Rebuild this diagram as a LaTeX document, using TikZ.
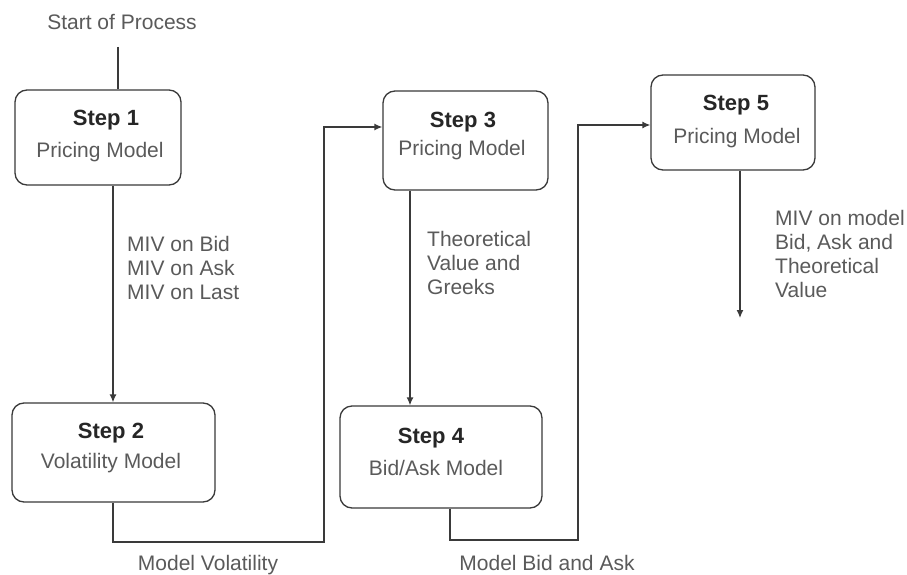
\documentclass[tikz,border=0pt]{standalone}
\usepackage{fontspec}
\setmainfont{Liberation Sans}
\usetikzlibrary{arrows.meta}
\definecolor{txt}{HTML}{5A5A5A}
\definecolor{ttl}{HTML}{262626}
\definecolor{ln}{HTML}{3A3A3A}
\tikzset{
  stepbox/.style={draw=ln, line width=1.3pt, rounded corners=12pt, fill=white, inner sep=0pt},
  ttltext/.style={text=ttl, font=\fontsize{22}{26}\selectfont\bfseries, inner sep=0pt},
  subtext/.style={text=txt, font=\fontsize{21}{24}\selectfont, inner sep=0pt},
  lbltext/.style={text=txt, font=\fontsize{21}{24}\selectfont, align=left, inner sep=0pt, anchor=west},
  conn/.style={draw=ln, line width=1.3pt},
  arr/.style={conn, -{Latex[length=8pt,width=7pt]}}
}
\begin{document}
\begin{tikzpicture}[x=1pt,y=-1pt]
\useasboundingbox[fill=white] (0,0) rectangle (907,575);

% boxes
\node[stepbox, minimum width=166pt, minimum height=95pt] (s1) at (98,137.5) {};
\node[stepbox, minimum width=203pt, minimum height=99pt] (s2) at (113.5,452.5) {};
\node[stepbox, minimum width=165pt, minimum height=99pt] (s3) at (465.5,140.5) {};
\node[stepbox, minimum width=202pt, minimum height=102pt] (s4) at (441,457) {};
\node[stepbox, minimum width=164pt, minimum height=95pt] (s5) at (733,122.5) {};

% box texts
\node[ttltext] (t1) at (106,120) {Step 1};
\node[subtext] (u1) at (100,152) {Pricing Model};
\node[ttltext] (t2) at (111,433) {Step 2};
\node[subtext] (u2) at (111,463) {Volatility Model};
\node[ttltext] (t3) at (463,122) {Step 3};
\node[subtext] (u3) at (462,150) {Pricing Model};
\node[ttltext] (t4) at (431,438) {Step 4};
\node[subtext] (u4) at (436,468) {Bid/Ask Model};
\node[ttltext] (t5) at (736,105) {Step 5};
\node[subtext] (u5) at (737,138) {Pricing Model};

% labels
\node[subtext] (start) at (122,22) {Start of Process};
\node[lbltext] (l1) at (127,268) {MIV on Bid\\MIV on Ask\\MIV on Last};
\node[lbltext] (l3) at (427,263) {Theoretical\\Value and\\Greeks};
\node[lbltext] (l5) at (775,254) {MIV on model\\Bid, Ask and\\Theoretical\\Value};
\node[subtext] (l2) at (208,565) {Model Volatility};
\node[subtext] (l4) at (547,563) {Model Bid and Ask};

% helper coordinates
\coordinate (st) at (118,47);
\coordinate (x1) at (113,0);
\coordinate (p1) at (113,542);
\coordinate (p2) at (324,542);
\coordinate (p3) at (324,127);
\coordinate (x3) at (410,0);
\coordinate (q1) at (450,540);
\coordinate (q2) at (578,540);
\coordinate (q3) at (578,125);
\coordinate (x5) at (740,0);
\coordinate (endpt) at (740,318);

% connectors
\draw[conn] (st) -- (st |- s1.north);
\draw[arr] (s1.south -| x1) -- (s2.north -| x1);
\draw[arr] (s2.south -| p1) -- (p1) -- (p2) -- (p3) -- (s3.west |- p3);
\draw[arr] (s3.south -| x3) -- (s4.north -| x3);
\draw[arr] (s4.south -| q1) -- (q1) -- (q2) -- (q3) -- (s5.west |- q3);
\draw[arr] (s5.south -| x5) -- (endpt);
\end{tikzpicture}
\end{document}
